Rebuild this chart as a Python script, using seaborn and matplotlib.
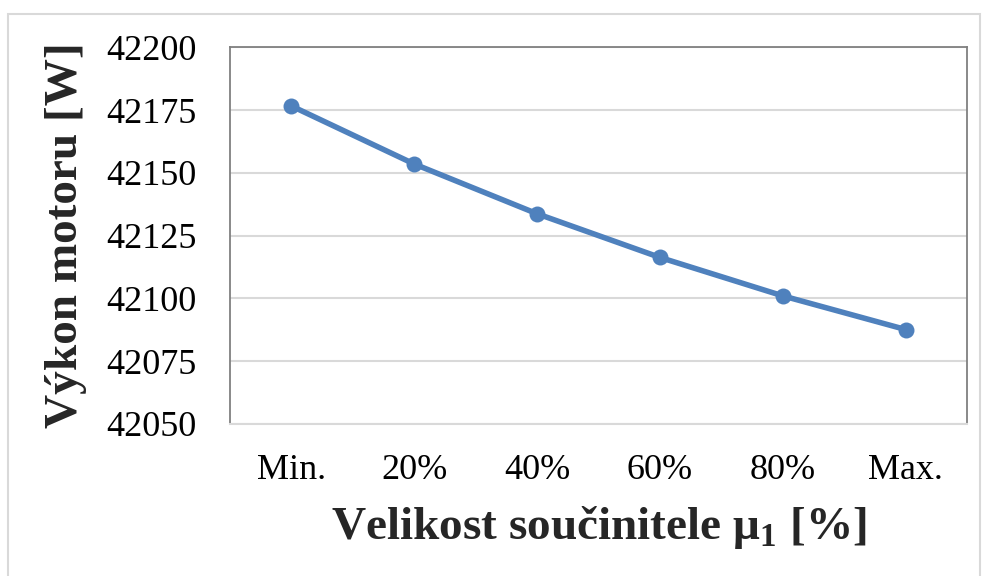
import matplotlib
matplotlib.use("Agg")
import matplotlib.pyplot as plt
import seaborn as sns
import pandas as pd
from matplotlib.patches import Rectangle

# values
categories = ["Min.", "20%", "40%", "60%", "80%", "Max."]
power_w = [42176.6, 42153.5, 42133.7, 42116.3, 42101.0, 42087.6]
y_ticks = [42050, 42075, 42100, 42125, 42150, 42175, 42200]

sns.set_theme(style="white")
plt.rcParams['font.family'] = ['Liberation Serif', 'DejaVu Serif']
plt.rcParams['mathtext.fontset'] = 'custom'
plt.rcParams['mathtext.rm'] = 'Liberation Serif:bold'
plt.rcParams['mathtext.bf'] = 'Liberation Serif:bold'

df = pd.DataFrame({'kat': categories, 'vykon': power_w})

fig = plt.figure(figsize=(9.82, 5.76), dpi=100)
ax = fig.add_axes([0.2342, 0.264, 0.7505, 0.654])

# outer chart border
fig.patches.append(Rectangle((8 / 982, -0.02), 972 / 982, 1 - 14 / 576 + 0.02,
                             transform=fig.transFigure, fill=False,
                             edgecolor='#d9d9d9', linewidth=1.5))

sns.lineplot(data=df, x='kat', y='vykon', sort=False, ax=ax,
             color='#4f81bd', linewidth=4, marker='o', markersize=11.5,
             markeredgewidth=0)

ax.set_xlim(-0.5, len(categories) - 0.5)
ax.set_ylim(y_ticks[0], y_ticks[-1])
ax.set_yticks(y_ticks)
ax.yaxis.grid(True, color='#d9d9d9', linewidth=1.5)
ax.set_axisbelow(True)

ax.tick_params(axis='both', length=0, labelsize=26, colors='black')
ax.tick_params(axis='y', pad=24)
ax.tick_params(axis='x', pad=22)

for side in ['left', 'right', 'top']:
    ax.spines[side].set_color('#808080')
    ax.spines[side].set_linewidth(1.3)
ax.spines['bottom'].set_color('#d9d9d9')
ax.spines['bottom'].set_linewidth(1.5)

ax.set_xlabel('Velikost součinitele μ$_1$ [%]', fontsize=34, fontweight='bold',
              labelpad=12)
ax.set_ylabel('Výkon motoru [W]', fontsize=34, fontweight='bold', labelpad=14)

fig.savefig('out.png', dpi=100)
